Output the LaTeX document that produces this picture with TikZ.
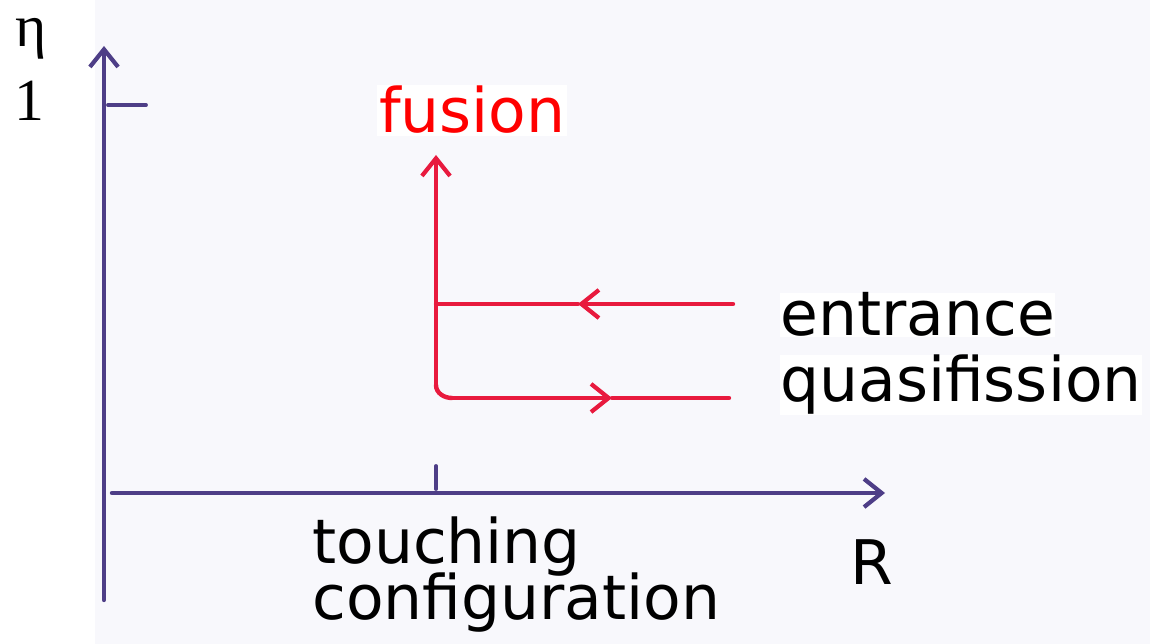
\documentclass[tikz,border=0pt]{standalone}
\usepackage{fontspec}
\setmainfont{Liberation Serif}
\newfontfamily\dv{DejaVu Sans}
\usetikzlibrary{arrows.meta}
\definecolor{paper}{RGB}{248,248,252}
\definecolor{ink}{RGB}{78,62,135}
\definecolor{pen}{RGB}{232,26,62}
\definecolor{lbl}{RGB}{255,0,0}
\begin{document}
\begin{tikzpicture}[x=0.02cm,y=-0.02cm,
  axis/.style={draw=ink,line width=2.5pt,line cap=round},
  redline/.style={draw=pen,line width=2.5pt,line cap=round},
  barb/.style={-{Straight Barb[length=10pt,width=16pt,line width=2.4pt]}},
  txt/.style={font=\dv\fontsize{35}{38}\selectfont,inner sep=0pt,anchor=base west},
  ser/.style={font=\fontsize{34}{36}\selectfont,inner sep=0pt,anchor=base}]
\useasboundingbox (0,0) rectangle (1150,644);
\fill[white] (0,0) rectangle (1150,644);
\fill[paper] (95,0) rectangle (1150,644);
% axes
\coordinate (ybot) at (104,600);
\coordinate (ytop) at (104,46);
\coordinate (xl) at (112,493);
\coordinate (xr) at (885,493);
\draw[axis,barb] (ybot) -- (ytop);
\draw[axis,barb] (xl) -- (xr);
\coordinate (t1a) at (108,105);
\coordinate (t1b) at (146,105);
\draw[axis,line width=2.2pt] (t1a) -- (t1b);
\coordinate (tRa) at (436,466);
\coordinate (tRb) at (436,489);
\draw[axis,line width=2.2pt] (tRa) -- (tRb);
% labels
\node[ser] (eta) at (31,47) {η};
\node[ser] (one) at (29,121) {1};
\node[txt] (R) at (850,585) {R};
\node[txt] (touch) at (312,564) {touching};
\node[txt] (conf) at (312,620) {configuration};
\node[txt,fill=white,text=lbl,inner sep=1pt] (fus) at (377,133) {fusion};
\node[txt,fill=white] (ent) at (780,336) {entrance};
\node[txt,fill=white] (qf) at (780,402) {quasifission};
% red paths
\coordinate (top) at (436,155);
\coordinate (junc) at (436,304);
\coordinate (corner) at (436,385);
\coordinate (e1) at (733,304);
\coordinate (m1) at (578,304);
\coordinate (l2) at (452,398);
\coordinate (m2) at (612,398);
\coordinate (e2) at (729,398);
\draw[redline,barb] (corner) -- (top);
\draw[redline,barb] (e1) -- (m1);
\draw[redline] (m1) -- (junc);
\draw[redline] (corner) to[out=-90,in=180] (l2);
\draw[redline,barb] (l2) -- (m2);
\draw[redline] (m2) -- (e2);
\end{tikzpicture}
\end{document}
